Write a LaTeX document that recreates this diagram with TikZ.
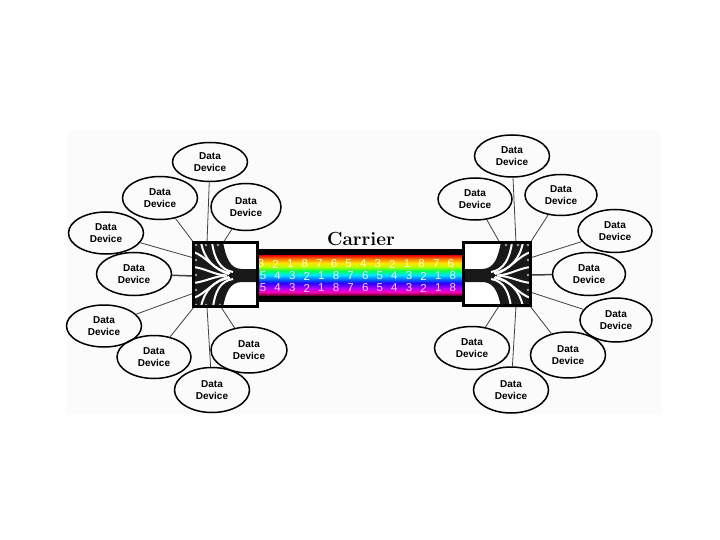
\documentclass[tikz,border=0pt]{standalone}
\usepackage{fontspec}
\newfontfamily\arialfont{Liberation Sans}
\usetikzlibrary{shapes.geometric}
\pgfdeclareverticalshading{rainbowcable}{100bp}{%
 rgb(0bp)=(0.45,0,0.2); rgb(25bp)=(0.45,0,0.2); rgb(29bp)=(1,0,0.75);
 rgb(34bp)=(0.65,0,1); rgb(40bp)=(0.15,0,1); rgb(45bp)=(0,0.45,1);
 rgb(50bp)=(0,0.9,1); rgb(55bp)=(0,1,0.35); rgb(60bp)=(0.7,1,0);
 rgb(65bp)=(1,0.9,0); rgb(70bp)=(1,0.5,0); rgb(75bp)=(0.9,0,0); rgb(100bp)=(0.9,0,0)}
% fan of fibres, drawn for the left box; mirrored for the right box
\newcommand\myfan{%
  \fill[black!90] (193,242) -- (223,242) .. controls (226,258) and (230,269) .. (242,269)
    -- (259,269) -- (259,282) -- (242,282) .. controls (230,282) and (226,292) .. (223,307)
    -- (193,307) -- cycle;
  \draw[gap] (212,242) .. controls (214,258) and (220,270) .. (233,272);
  \draw[gap] (201,242) .. controls (204,259) and (214,270) .. (230,273);
  \draw[gap] (193,252) .. controls (205,255) and (215,271) .. (229,274);
  \draw[gap] (193,267) .. controls (205,268) and (214,275) .. (227,275.5);
  \draw[gap] (193,283) .. controls (205,282) and (214,276) .. (227,275.5);
  \draw[gap] (193,298) .. controls (205,295) and (215,279) .. (229,277);
  \draw[gap] (201,307) .. controls (204,291) and (214,280) .. (230,278);
  \draw[gap] (213,307) .. controls (215,292) and (220,281) .. (233,279);
  \foreach \p in {(196,245),(206,245),(218,245),(196,260),(196,275),(196,290),(196,305),(206,305),(220,305)}
    \fill[black!35] \p circle (1.3);
}
\begin{document}
\begin{tikzpicture}[x=1pt,y=-1pt,
  dev/.style={ellipse,draw,line width=1.5pt,inner sep=0pt,align=center,
    font=\arialfont\bfseries\fontsize{10}{12}\selectfont},
  link/.style={line width=0.8pt,black!75},
  thicklink/.style={line width=1.5pt,black!75},
  boxst/.style={fill=white,inner sep=0pt,outer sep=0pt},
  gap/.style={white,line width=2pt},
  digit/.style={font=\arialfont\fontsize{11.5}{11.5}\selectfont,inner sep=0pt}]
\useasboundingbox (0,0) rectangle (720,540);
\fill[white] (0,0) rectangle (720,540);
\fill[black!1.5] (67,131) rectangle (661,414);

% cable
\fill[black] (255,249) rectangle (466,302);
\shade[shading=rainbowcable] (255,255) rectangle (466,295);
\foreach \d [count=\k from 0] in {3,2,1,8,7,6,5,4,3,2,1,8,7,6}
  \node[digit,text={rgb,255:red,255;green,255;blue,205}] (ra\k) at (261+14.6*\k,264) {\d};
\foreach \d [count=\k from 0] in {5,4,3,2,1,8,7,6,5,4,3,2,1,8}
  \node[digit,text={rgb,255:red,225;green,255;blue,255}] (rb\k) at (263+14.6*\k,276) {\d};
\foreach \d [count=\k from 0] in {5,4,3,2,1,8,7,6,5,4,3,2,1,8}
  \node[digit,text={rgb,255:red,255;green,205;blue,255}] (rc\k) at (263+14.6*\k,288) {\d};

\node[anchor=base,inner sep=0pt] (carrier) at (361,245) {\fontsize{19}{19}\selectfont\bfseries Carrier};

% left devices
\node[dev,minimum width=75pt,minimum height=39pt] (A) at (210,162) {Data\\Device};
\node[dev,minimum width=75pt,minimum height=43pt] (B) at (160,198) {Data\\Device};
\node[dev,minimum width=70pt,minimum height=47pt] (C) at (246,207) {Data\\Device};
\node[dev,minimum width=75pt,minimum height=42pt] (D) at (106,233) {Data\\Device};
\node[dev,minimum width=75pt,minimum height=43pt] (E) at (134,274) {Data\\Device};
\node[dev,minimum width=75pt,minimum height=42pt] (F) at (104,326) {Data\\Device};
\node[dev,minimum width=74pt,minimum height=43pt] (G) at (154,357) {Data\\Device};
\node[dev,minimum width=76pt,minimum height=46pt] (H) at (249,350) {Data\\Device};
\node[dev,minimum width=75pt,minimum height=45pt] (I) at (212,390) {Data\\Device};
% right devices
\node[dev,minimum width=75pt,minimum height=42pt] (a) at (512,156) {Data\\Device};
\node[dev,minimum width=74pt,minimum height=42pt] (b) at (475,199) {Data\\Device};
\node[dev,minimum width=72pt,minimum height=41pt] (c) at (561,195) {Data\\Device};
\node[dev,minimum width=74pt,minimum height=43pt] (d) at (615,231) {Data\\Device};
\node[dev,minimum width=73pt,minimum height=43pt] (e) at (589,274) {Data\\Device};
\node[dev,minimum width=72pt,minimum height=44pt] (f) at (616,320) {Data\\Device};
\node[dev,minimum width=75pt,minimum height=46pt] (g) at (568,355) {Data\\Device};
\node[dev,minimum width=75pt,minimum height=43pt] (h) at (472,348) {Data\\Device};
\node[dev,minimum width=75pt,minimum height=46pt] (i) at (511,390) {Data\\Device};

% connector ends on the boxes
\coordinate (lA) at (207,243); \coordinate (lB) at (194,243); \coordinate (lC) at (223,243);
\coordinate (lD) at (194,258); \coordinate (lE) at (194,276); \coordinate (lF) at (194,293);
\coordinate (lG) at (194,307); \coordinate (lH) at (221,307); \coordinate (lI) at (207,307);
\coordinate (ra) at (516,243); \coordinate (rb) at (500,243); \coordinate (rc) at (530,243);
\coordinate (rd) at (530,258); \coordinate (re) at (530,275); \coordinate (rf) at (530,292);
\coordinate (rg) at (530,306); \coordinate (rh) at (499,306); \coordinate (ri) at (516,306);

\foreach \n in {A,B,C,D,F,G,H,I} \draw[link] (\n) -- (l\n);
\draw[thicklink] (E) -- (lE);
\foreach \n in {a,b,c,d,f,g,h,i} \draw[link] (\n) -- (r\n);
\draw[thicklink] (e) -- (re);

% boxes (white ground)
\node[boxst,minimum width=64pt,minimum height=64pt] (boxL) at (225.5,274.5) {};
\node[boxst,minimum width=67pt,minimum height=63pt] (boxR) at (497,274) {};

% fans
\myfan
\begin{scope}[xshift=724pt,xscale=-1]
  \myfan
\end{scope}
\fill[black!90] (462,269) rectangle (468,282);
% box borders over the fans
\draw[line width=3pt] (boxL.north west) rectangle (boxL.south east);
\draw[line width=3pt] (boxR.north west) rectangle (boxR.south east);
\end{tikzpicture}
\end{document}
